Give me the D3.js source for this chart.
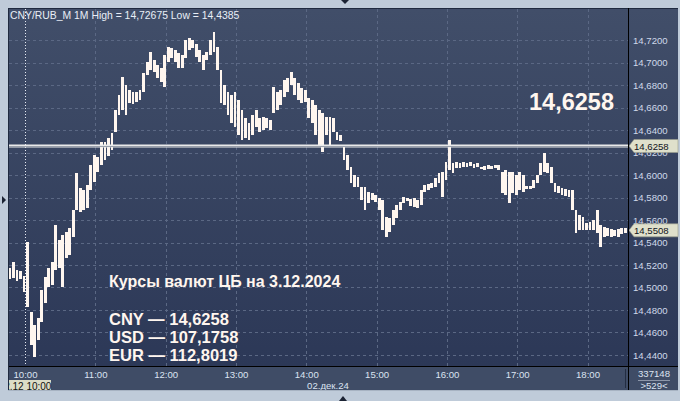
<!DOCTYPE html>
<html><head><meta charset="utf-8">
<script src="https://cdn.jsdelivr.net/npm/d3@7"></script>
<style>
html,body{margin:0;padding:0;background:#bfcbd9;}
svg{display:block;font-family:"Liberation Sans",Arial,sans-serif;}
</style></head>
<body><svg id="c" width="680" height="401"></svg>
<script>
// ---- data ----
const instrument = "CNY/RUB_M 1M High = 14,72675 Low = 14,4385";
const barStart = "09:46";          // first 3-minute bar
const barMinutes = 3;
const highs = [
14.5173,14.5227,14.5156,14.5147,14.5102,14.5404,14.4782,14.4667,14.4729,14.4978,
14.5093,14.5173,14.5227,14.5556,14.5422,14.5467,14.5493,14.5529,14.5689,14.6018,
14.5884,14.5867,14.5911,14.6089,14.6178,14.6160,14.6293,14.6293,14.6329,14.6373,
14.6578,14.6711,14.6871,14.6800,14.6756,14.6738,14.6738,14.6756,14.6907,14.7004,
14.7093,14.7022,14.6978,14.6951,14.7067,14.7138,14.7129,14.7111,14.7084,14.7067,
14.7200,14.7218,14.7200,14.7164,14.7111,14.7067,14.7093,14.7200,14.7267,14.7138,
14.6933,14.6800,14.6738,14.6711,14.6738,14.6667,14.6578,14.6507,14.6462,14.6533,
14.6578,14.6507,14.6516,14.6507,14.6489,14.6782,14.6738,14.6756,14.6844,14.6862,
14.6916,14.6862,14.6818,14.6773,14.6756,14.6684,14.6667,14.6622,14.6578,14.6551,
14.6516,14.6516,14.6507,14.6382,14.6356,14.6258,14.6178,14.6071,14.6000,14.5982,
14.5893,14.5893,14.5849,14.5840,14.5822,14.5796,14.5778,14.5627,14.5618,14.5689,
14.5733,14.5760,14.5804,14.5796,14.5787,14.5796,14.5778,14.5867,14.5911,14.5920,
14.5929,14.5973,14.6018,14.6027,14.6116,14.6311,14.6107,14.6116,14.6107,14.6116,
14.6107,14.6116,14.6098,14.6107,14.6071,14.6080,14.6089,14.6080,14.6089,14.6089,
14.6027,14.6044,14.6027,14.6027,14.6000,14.6027,14.6000,14.5902,14.5902,14.5956,
14.6000,14.6107,14.6196,14.6107,14.6071,14.5929,14.5902,14.5884,14.5876,14.5867,
14.5867,14.5689,14.5644,14.5627,14.5573,14.5582,14.5600,14.5689,14.5556,14.5538,
14.5529,14.5520,14.5511,14.5520,14.5529,14.5529];
const lows = [
14.5076,14.5084,14.5058,14.5076,14.4960,14.4827,14.4489,14.4385,14.4533,14.4693,
14.4862,14.5004,14.5022,14.5156,14.5173,14.5004,14.5262,14.5289,14.5449,14.5689,
14.5671,14.5689,14.5707,14.5867,14.5938,14.6027,14.6089,14.6133,14.6169,14.6222,
14.6382,14.6533,14.6578,14.6533,14.6640,14.6631,14.6649,14.6667,14.6738,14.6889,
14.6933,14.6916,14.6862,14.6827,14.6782,14.7004,14.7040,14.7004,14.6951,14.6951,
14.7040,14.7111,14.7129,14.7049,14.7004,14.6933,14.7022,14.7067,14.7093,14.6933,
14.6640,14.6622,14.6533,14.6462,14.6427,14.6356,14.6311,14.6329,14.6311,14.6356,
14.6427,14.6382,14.6400,14.6418,14.6400,14.6551,14.6578,14.6622,14.6693,14.6738,
14.6800,14.6711,14.6667,14.6640,14.6649,14.6507,14.6462,14.6356,14.6267,14.6204,
14.6356,14.6249,14.6382,14.6311,14.6302,14.6133,14.6044,14.5929,14.5893,14.5893,
14.5778,14.5689,14.5751,14.5778,14.5760,14.5689,14.5511,14.5449,14.5493,14.5556,
14.5618,14.5689,14.5751,14.5769,14.5724,14.5716,14.5707,14.5733,14.5849,14.5867,
14.5884,14.5893,14.5929,14.5804,14.5956,14.6044,14.6018,14.6062,14.6062,14.6071,
14.6071,14.6080,14.6062,14.6071,14.6053,14.6044,14.6053,14.6053,14.6062,14.6044,
14.5840,14.5822,14.5751,14.5840,14.5822,14.5867,14.5849,14.5876,14.5876,14.5884,
14.5929,14.6000,14.6027,14.6018,14.5929,14.5849,14.5840,14.5822,14.5813,14.5804,
14.5689,14.5484,14.5511,14.5511,14.5511,14.5511,14.5511,14.5484,14.5360,14.5449,
14.5458,14.5449,14.5458,14.5449,14.5476,14.5484];
const yTicks = [14.44,14.46,14.48,14.50,14.52,14.54,14.56,14.58,14.60,14.62,14.64,14.66,14.68,14.70,14.72];
const hourTicks = ["10:00","11:00","12:00","13:00","14:00","15:00","16:00","17:00","18:00"];
const dateLabel = "02.дек.24";
const crossLabel = "02.12 10:00";
const lastCbr = 14.6258;     // current level line
const lastPrice = 14.5508;   // last trade
const volumeLabel = "337148";
const barsLabel = ">529<";
const titleText = "Курсы валют ЦБ на 3.12.2024";
const rates = ["CNY — 14,6258","USD — 107,1758","EUR — 112,8019"];

// ---- layout ----
const P = {l:9, t:9, r:628, b:366};
const svg = d3.select("#c");
const day = (hm)=>{const [h,m]=hm.split(":").map(Number);return new Date(2024,11,2,h,m);};
const x = d3.scaleTime().domain([day("10:00"), day("18:00")]).range([25, 587.5]);
const y = d3.scaleLinear().domain([14.44, 14.72]).range([355, 40]);
const fmt = v => d3.format(".4f")(v).replace(".", ",");

const defs = svg.append("defs");
const g1 = defs.append("linearGradient").attr("id","bg").attr("x1",0).attr("y1",0).attr("x2",0).attr("y2",1);
g1.append("stop").attr("offset","0%").attr("stop-color","#414e69");
g1.append("stop").attr("offset","100%").attr("stop-color","#2c3857");
defs.append("clipPath").attr("id","plot").append("rect")
  .attr("x",P.l).attr("y",P.t).attr("width",P.r-P.l).attr("height",P.b-P.t);
defs.append("clipPath").attr("id","bottom").append("rect")
  .attr("x",P.l).attr("y",367).attr("width",P.r-P.l).attr("height",24);

svg.append("rect").attr("width",680).attr("height",401).attr("fill","#bfcbd9");
svg.append("rect").attr("x",P.l).attr("y",P.t).attr("width",P.r-P.l).attr("height",P.b-P.t).attr("fill","url(#bg)");
svg.append("rect").attr("x",629).attr("y",P.t).attr("width",49).attr("height",P.b-P.t).attr("fill","url(#bg)");
svg.append("rect").attr("x",P.l).attr("y",367).attr("width",669).attr("height",23).attr("fill","#3f4c66");

// grid
const grid = svg.append("g").attr("clip-path","url(#plot)");
grid.selectAll("line.h").data(yTicks).join("line")
  .attr("x1",P.l).attr("x2",P.r).attr("y1",d=>Math.round(y(d))+0.5).attr("y2",d=>Math.round(y(d))+0.5)
  .attr("stroke","#5b6884").attr("stroke-dasharray","3,3");
grid.selectAll("line.v").data(hourTicks.slice(1)).join("line")
  .attr("y1",P.t).attr("y2",P.b).attr("x1",d=>Math.round(x(day(d)))+0.5).attr("x2",d=>Math.round(x(day(d)))+0.5)
  .attr("stroke","#5b6884").attr("stroke-dasharray","3,3");
// crosshair at 10:00
grid.append("line").attr("y1",P.t).attr("y2",P.b)
  .attr("x1",Math.round(x(day("10:00")))+0.5).attr("x2",Math.round(x(day("10:00")))+0.5)
  .attr("stroke","#e8ecf4").attr("stroke-dasharray","1,2");

// header
svg.append("text").attr("x",10).attr("y",18.5).attr("font-size","10.4px").attr("fill","#e9eef7").text(instrument);

// bars
const t0 = day(barStart);
const bars = highs.map((h,i)=>({t:d3.timeMinute.offset(t0,i*barMinutes), h, l:lows[i]}));
svg.append("g").attr("clip-path","url(#plot)").selectAll("rect").data(bars).join("rect")
  .attr("x",d=>x(d.t))
  .attr("width",d=>x(d3.timeMinute.offset(d.t,barMinutes))-x(d.t)-0.7)
  .attr("y",d=>y(d.h))
  .attr("height",d=>Math.max(1.5,y(d.l)-y(d.h)))
  .attr("fill","#fff6ef").attr("shape-rendering","crispEdges");

// current line
const yl = Math.round(y(lastCbr));
svg.append("rect").attr("x",P.l).attr("y",yl-1.5).attr("width",P.r-P.l).attr("height",3).attr("fill","#e9e9ea");
svg.append("line").attr("x1",P.l).attr("x2",P.r).attr("y1",yl+0.5).attr("y2",yl+0.5).attr("stroke","#9aa0ab");

// texts on chart
svg.append("text").attr("x",529).attr("y",110).attr("font-size","23.5px").attr("font-weight","bold")
  .attr("fill","#fff6ef").text(fmt(lastCbr));
svg.append("text").attr("x",109).attr("y",287).attr("font-size","16px").attr("font-weight","bold")
  .attr("fill","#fff6ef").text(titleText);
svg.append("g").selectAll("text").data(rates).join("text")
  .attr("x",109).attr("y",(d,i)=>324.5+i*18).attr("font-size","16.5px").attr("font-weight","bold")
  .attr("fill","#fff6ef").text(d=>d);

// right axis
const ya = d3.axisRight(y).tickValues(yTicks).tickSize(0).tickPadding(5).tickFormat(fmt);
const yg = svg.append("g").attr("transform",`translate(628,0)`).call(ya);
yg.select(".domain").remove();
yg.selectAll("text").attr("font-size","9.6px").attr("fill","#cfd9ea").attr("font-family","Liberation Sans, Arial");

// price tags
function tag(v){
  const yy = y(v);
  const g = svg.append("g");
  g.append("path").attr("d",`M629,${yy} L634,${yy-6.5} L678,${yy-6.5} L678,${yy+6.5} L634,${yy+6.5} Z`)
    .attr("fill","#dfe0cb").attr("stroke","#9b9d8c").attr("stroke-width",0.6);
  g.append("text").attr("x",634).attr("y",yy+3.8).attr("font-size","9.6px").attr("fill","#10131a").text(fmt(v));
}
tag(lastCbr); tag(lastPrice);

// bottom axis
const xa = d3.axisBottom(x).tickValues(hourTicks.map(day)).tickSize(0).tickPadding(4).tickFormat(d3.timeFormat("%H:%M"));
const xclip = svg.append("g").attr("clip-path","url(#bottom)");
const xg = xclip.append("g").attr("transform",`translate(0,367)`).call(xa);
xg.select(".domain").remove();
xg.selectAll("text").attr("font-size","9.6px").attr("fill","#dbe3f1").attr("font-family","Liberation Sans, Arial");
svg.append("text").attr("x",328).attr("y",389).attr("text-anchor","middle").attr("font-size","9.6px")
  .attr("fill","#dbe3f1").text(dateLabel);
// crosshair time label
const cl = svg.append("g").attr("clip-path","url(#bottom)");
cl.append("rect").attr("x",-1).attr("y",380).attr("width",52).attr("height",11).attr("fill","#dcdcc6");
cl.append("text").attr("x",25).attr("y",389.5).attr("text-anchor","middle").attr("font-size","10px")
  .attr("fill","#111").text(crossLabel);

// right-bottom cell
svg.append("line").attr("x1",625.5).attr("x2",625.5).attr("y1",369).attr("y2",388).attr("stroke","#232d42");
svg.append("text").attr("x",654).attr("y",377).attr("text-anchor","middle").attr("font-size","9.6px").attr("fill","#dbe3f1").text(volumeLabel);
svg.append("line").attr("x1",638).attr("x2",670).attr("y1",380.5).attr("y2",380.5).attr("stroke","#8d97aa");
svg.append("text").attr("x",654).attr("y",389).attr("text-anchor","middle").attr("font-size","9.6px").attr("fill","#dbe3f1").text(barsLabel);

// borders
const B = svg.append("g").attr("stroke-width",1).attr("shape-rendering","crispEdges");
B.append("line").attr("x1",8.5).attr("x2",8.5).attr("y1",8).attr("y2",390).attr("stroke","#1f2a3f");
B.append("line").attr("x1",8).attr("x2",678).attr("y1",8.5).attr("y2",8.5).attr("stroke","#1f2a3f");
B.append("line").attr("x1",628.5).attr("x2",628.5).attr("y1",8).attr("y2",390).attr("stroke","#000");
B.append("line").attr("x1",9).attr("x2",678).attr("y1",366.5).attr("y2",366.5).attr("stroke","#000");
B.append("line").attr("x1",8).attr("x2",678).attr("y1",390.5).attr("y2",390.5).attr("stroke","#a7b3c2");

// small markers
svg.append("path").attr("d","M341,0 L349,0 L345,4 Z").attr("fill","#1b2333");
svg.append("path").attr("d","M339,401 L347,401 L343,396 Z").attr("fill","#1b2333");
svg.append("path").attr("d","M2,196 L2,204 L6,200 Z").attr("fill","#1b2333");
</script></body></html>
